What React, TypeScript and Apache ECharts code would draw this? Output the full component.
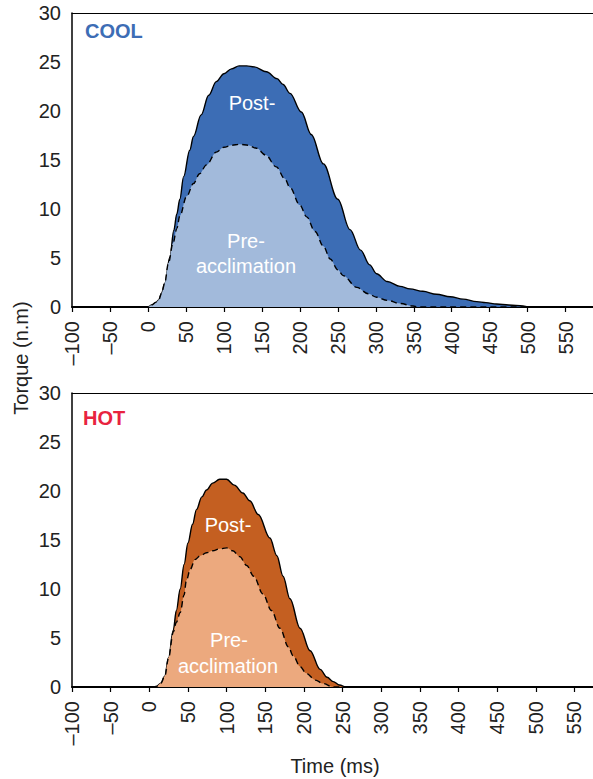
import React, { useEffect, useRef } from "react";
import * as echarts from "echarts";

// COOL – post-acclimation
const coolPostT = [-100, 0, 5, 11, 14, 18, 22, 29, 34, 38, 42, 47, 55, 60, 70, 80, 90, 100, 110, 120, 130, 140, 156, 170, 178, 187, 202, 215, 231, 250, 266, 280, 292, 301, 315, 332, 345, 362, 380, 398, 415, 433, 445, 459, 475, 494, 500, 586];
const coolPostV = [0, 0, 0.2, 0.5, 0.7, 1.4, 2.4, 5.1, 7.8, 9.5, 11.0, 13.3, 16.0, 17.4, 19.6, 21.6, 23.0, 23.8, 24.3, 24.6, 24.6, 24.5, 24.0, 23.3, 22.7, 21.8, 19.9, 17.6, 14.6, 11.0, 7.9, 5.8, 4.3, 3.4, 2.6, 2.1, 1.85, 1.6, 1.3, 1.05, 0.8, 0.55, 0.45, 0.3, 0.2, 0.1, 0, 0];
// COOL – pre-acclimation
const coolPreT = [-100, 0, 5, 11, 14, 18, 22, 27, 33, 38, 42, 51, 60, 68, 77, 90, 100, 110, 121, 132, 143, 155, 169, 180, 187, 200, 209, 220, 231, 240, 250, 257, 275, 290, 301, 315, 332, 349, 355, 586];
const coolPreV = [0, 0, 0.2, 0.5, 0.7, 1.4, 2.4, 4.5, 6.5, 8.0, 9.3, 11.3, 12.6, 13.6, 14.5, 15.8, 16.3, 16.5, 16.6, 16.5, 16.2, 15.5, 14.3, 13.1, 12.2, 10.4, 9.2, 7.7, 6.2, 4.9, 3.8, 3.2, 2.0, 1.35, 1.0, 0.68, 0.36, 0.1, 0, 0];
// HOT – post-acclimation
const hotPostT = [-100, 0, 5, 9.5, 15, 20, 25, 31, 35, 40, 45, 50, 56, 61, 68, 74, 82, 91, 100, 110, 121, 130, 141, 156, 165, 173, 182, 195, 208, 221, 230, 238, 246, 255, 574];
const hotPostV = [0, 0, 0, 0.06, 0.4, 1.1, 3.0, 5.8, 7.8, 10.0, 12.5, 14.7, 16.6, 18.1, 19.4, 20.1, 20.8, 21.2, 21.2, 20.6, 19.8, 19.0, 17.6, 15.2, 13.4, 11.3, 9.0, 6.0, 3.7, 1.8, 1.0, 0.55, 0.2, 0, 0];
// HOT – pre-acclimation
const hotPreT = [-100, 0, 5, 9.5, 15, 20, 25, 31, 35, 40, 45, 48, 53, 59, 66, 74, 82, 91, 100, 108, 117, 126, 135, 147, 158, 169, 180, 186, 195, 203, 215, 225, 238, 574];
const hotPreV = [0, 0, 0, 0.06, 0.4, 1.1, 3.0, 5.6, 6.6, 7.6, 9.4, 10.9, 12.0, 13.0, 13.4, 13.7, 13.9, 14.1, 14.2, 13.9, 13.3, 12.4, 11.3, 9.5, 7.8, 6.0, 4.1, 3.2, 2.1, 1.4, 0.7, 0.35, 0, 0];

const yTicks = [0, 5, 10, 15, 20, 25, 30];
const xMinTick = -100;
const xTickStep = 50;
const topXMax = 586;
const bottomXMax = 574;

const FONT = "'Liberation Sans', Arial, Helvetica, sans-serif";

const zip = (t: number[], v: number[]) => t.map((x, i) => [x, v[i]]);

export default function App() {
  const ref = useRef<HTMLDivElement>(null);
  useEffect(() => {
    if (!ref.current) return;
    const chart = echarts.init(ref.current, undefined, { renderer: "svg" });

    const xLabelFmt = (v: number) =>
      v % xTickStep === 0 ? (v < 0 ? "\u2013" + Math.abs(v) : String(v)) : "";

    const mkX = (gridIndex: number, max: number) => ({
      type: "value",
      gridIndex,
      min: xMinTick,
      max,
      interval: xTickStep,
      position: "bottom",
      axisLine: { show: true, onZero: false, lineStyle: { color: "#000", width: 2 } },
      axisTick: { show: true, length: 5, lineStyle: { color: "#000", width: 1.2 } },
      axisLabel: {
        rotate: 90,
        margin: 14,
        fontSize: 20,
        color: "#222",
        fontFamily: FONT,
        showMaxLabel: false,
        formatter: xLabelFmt,
      },
      splitLine: { show: false },
    });
    const mkTopFrame = (gridIndex: number, max: number) => ({
      type: "value",
      gridIndex,
      min: xMinTick,
      max,
      position: "top",
      axisLine: { show: true, onZero: false, lineStyle: { color: "#000", width: 1.2 } },
      axisTick: { show: false },
      axisLabel: { show: false },
      splitLine: { show: false },
    });
    const mkY = (gridIndex: number) => ({
      type: "value",
      gridIndex,
      min: yTicks[0],
      max: yTicks[yTicks.length - 1],
      interval: 5,
      position: "left",
      axisLine: { show: true, onZero: false, lineStyle: { color: "#000", width: 1.5 } },
      axisTick: { show: false },
      axisLabel: { fontSize: 20, color: "#222", margin: 11, fontFamily: FONT },
      splitLine: { show: false },
    });

    const mkSeries = (
      data: number[][],
      xi: number,
      yi: number,
      fill: string,
      dashed: boolean,
      z: number
    ) => ({
      type: "line",
      xAxisIndex: xi,
      yAxisIndex: yi,
      data,
      smooth: 0.35,
      smoothMonotone: "x",
      showSymbol: false,
      symbol: "none",
      z,
      lineStyle: { color: "#000", width: 1.4, type: dashed ? [6, 4] : "solid" },
      areaStyle: { color: fill, opacity: 1 },
      silent: true,
    });

    const whiteText = (x: number, y: number, text: string) => ({
      type: "text",
      x,
      y,
      style: {
        text,
        fill: "#fff",
        font: `20px ${FONT}`,
        textAlign: "center",
        textVerticalAlign: "middle",
      },
      z: 100,
    });

    chart.setOption({
      animation: false,
      backgroundColor: "#fff",
      grid: [
        { left: 72, top: 13, width: 521, height: 294 },
        { left: 72, top: 393, width: 521, height: 294 },
      ],
      xAxis: [mkX(0, topXMax), mkX(1, bottomXMax), mkTopFrame(0, topXMax), mkTopFrame(1, bottomXMax)],
      yAxis: [mkY(0), mkY(1)],
      series: [
        mkSeries(zip(coolPostT, coolPostV), 0, 0, "#3c6db5", false, 2),
        mkSeries(zip(coolPreT, coolPreV), 0, 0, "#a2badb", true, 3),
        mkSeries(zip(hotPostT, hotPostV), 1, 1, "#c45f21", false, 2),
        mkSeries(zip(hotPreT, hotPreV), 1, 1, "#eca97e", true, 3),
      ],
      graphic: [
        {
          type: "text",
          x: 85,
          y: 31,
          style: { text: "COOL", fill: "#3d6db5", font: `bold 20px ${FONT}`, textAlign: "left", textVerticalAlign: "middle" },
          z: 100,
        },
        {
          type: "text",
          x: 83,
          y: 418,
          style: { text: "HOT", fill: "#e8233f", font: `bold 20px ${FONT}`, textAlign: "left", textVerticalAlign: "middle" },
          z: 100,
        },
        whiteText(252, 103, "Post-"),
        whiteText(246, 241, "Pre-"),
        whiteText(246, 266, "acclimation"),
        whiteText(228, 525, "Post-"),
        whiteText(229, 640, "Pre-"),
        whiteText(228, 666, "acclimation"),
        {
          type: "text",
          x: 21,
          y: 358,
          rotation: Math.PI / 2,
          style: { text: "Torque (n.m)", fill: "#222", font: `20px ${FONT}`, textAlign: "center", textVerticalAlign: "middle" },
          z: 100,
        },
        {
          type: "text",
          x: 335,
          y: 766,
          style: { text: "Time (ms)", fill: "#222", font: `20px ${FONT}`, textAlign: "center", textVerticalAlign: "middle" },
          z: 100,
        },
      ],
    });
    return () => chart.dispose();
  }, []);
  return (
    <div
      ref={ref}
      style={{ position: "fixed", left: 0, top: 0, width: 593, height: 779 }}
    />
  );
}
